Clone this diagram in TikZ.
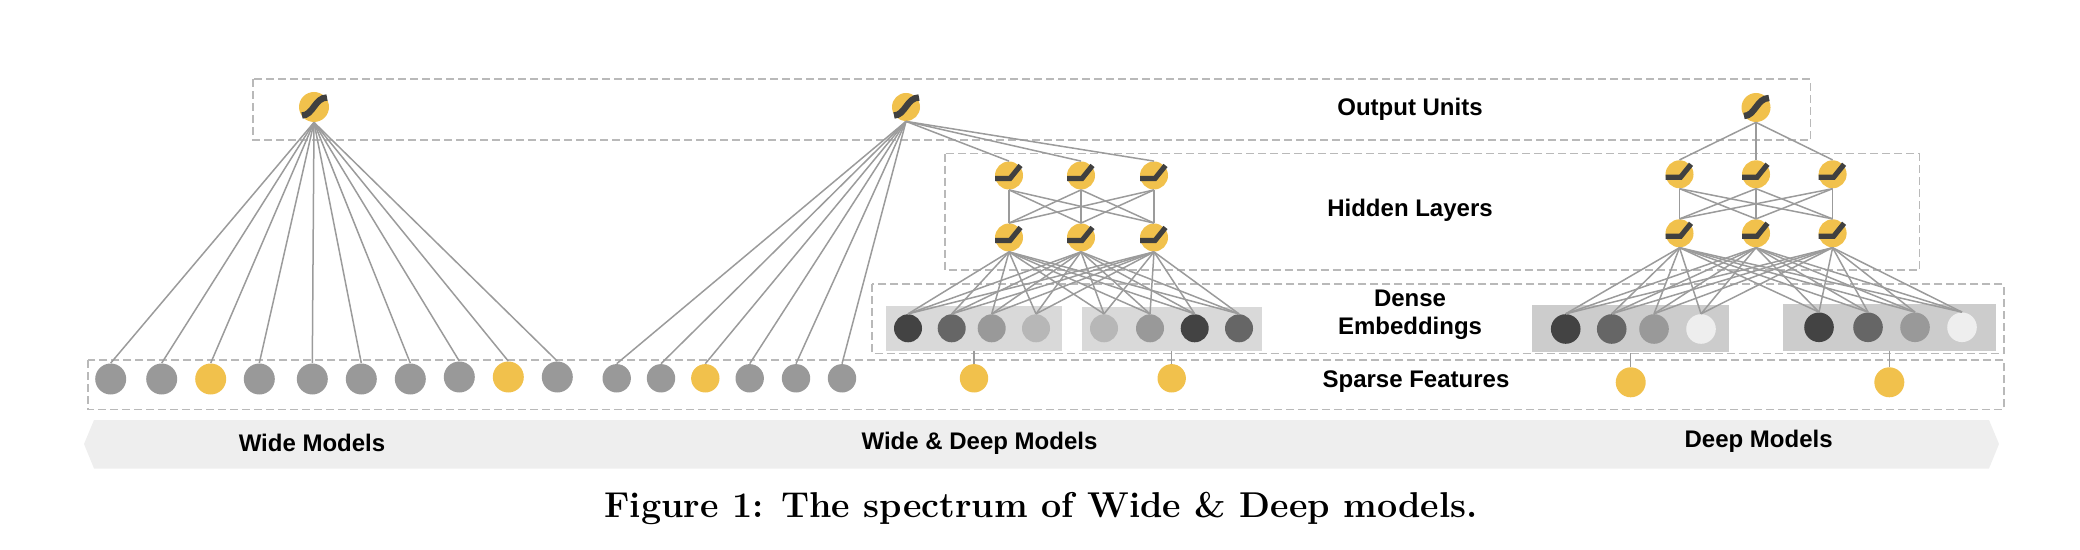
\documentclass[tikz,border=0pt]{standalone}
\usepackage{fontspec}
\newfontfamily\labfont{Liberation Sans}
\usetikzlibrary{calc}
\definecolor{yel}{RGB}{241,193,76}
\definecolor{cg}{RGB}{153,153,153}
\definecolor{lnc}{RGB}{155,155,155}
\definecolor{dashc}{RGB}{185,185,185}
\definecolor{icon}{RGB}{64,64,64}
\definecolor{c1}{RGB}{67,67,67}
\definecolor{c2}{RGB}{102,102,102}
\definecolor{c3}{RGB}{153,153,153}
\definecolor{c4}{RGB}{183,183,183}
\definecolor{c5}{RGB}{238,238,238}
\definecolor{rectA}{RGB}{217,217,217}
\definecolor{rectB}{RGB}{204,204,204}
\definecolor{band}{RGB}{238,238,238}
\begin{document}
\begin{tikzpicture}[x=0.5pt,y=-0.5pt,
  sp/.style={circle,inner sep=0pt,minimum size=15.5pt,fill=#1},
  sps/.style={circle,inner sep=0pt,minimum size=14.2pt,fill=#1},
  emb/.style={circle,inner sep=0pt,minimum size=14pt,fill=#1},
  demb/.style={circle,inner sep=0pt,minimum size=14.8pt,fill=#1},
  outu/.style={circle,inner sep=0pt,minimum size=15pt,fill=yel},
  hid/.style={circle,inner sep=0pt,minimum size=14pt,fill=yel},
  embrect/.style={rectangle,inner sep=0pt,fill=#1},
  conn/.style={draw=lnc,line width=0.75pt},
  dbox/.style={draw=dashc,line width=0.8pt,dash pattern=on 4pt off 2pt},
  lab/.style={font=\labfont\bfseries\fontsize{12}{14.15}\selectfont,align=center,inner sep=0pt},
  sigicon/.pic={\draw[icon,line width=3.2pt,line cap=butt] (-12,8.5) .. controls (-1,8.5) and (1,-9.5) .. (13,-9.5);},
  reluicon/.pic={\draw[icon,line width=2.6pt,line cap=butt,line join=miter] (-14,3) -- (1,3) -- (11.5,-10);}
]
\useasboundingbox (0,0) rectangle (2080,550);

% bottom band
\fill[band] (94,420) -- (1989,420) -- (1999,444) -- (1989,468.5) -- (94,468.5) -- (84,444) -- cycle;

% dashed layer boxes
\draw[dbox] (252.7,79.3) rectangle (1810.6,140);
\draw[dbox] (945,153.7) rectangle (1919.3,270);
\draw[dbox] (871.7,284.3) rectangle (2004,353.3);
\draw[dbox] (87.7,360) rectangle (2004,409.5);

% ---------------- Wide model ----------------
\node[outu] (wo) at (314,107) {};
\pic at (wo) {sigicon};
\foreach \x/\y/\c [count=\i] in {110.7/379/cg,161.7/379/cg,210.7/379/yel,259.3/379/cg,312.3/379/cg,361.3/379/cg,410.3/379/cg,459.3/377/cg,508.3/377/yel,557.3/377/cg}
  \node[sp=\c] (ws\i) at (\x,\y) {};
\foreach \i in {1,...,10} \draw[conn] (wo.south) -- (ws\i.north);

% ---------------- Wide & Deep model ----------------
\node[outu,minimum size=14pt] (wdo) at (906,107) {};
\pic at (wdo) {sigicon};
\foreach \x/\c [count=\i] in {616.7/cg,661/cg,705.3/yel,749.7/cg,796/cg,842/cg}
  \node[sps=\c] (wds\i) at (\x,378.3) {};
\foreach \i in {1,...,6} \draw[conn] (wdo.south) -- (wds\i.north);

\foreach \x [count=\i] in {1009,1081,1154} {
  \node[hid] (wh\i) at (\x,175.5) {};
  \pic at (wh\i) {reluicon};
  \node[hid] (wg\i) at (\x,237.5) {};
  \pic at (wg\i) {reluicon};
}
\foreach \i in {1,2,3} \draw[conn] (wdo.south) -- (wh\i.north);
\foreach \i in {1,2,3} \foreach \j in {1,2,3} \draw[conn] (wh\i.south) -- (wg\j.north);

\node[embrect=rectA,minimum width=88.15pt,minimum height=22.35pt] (er1) at (974.2,328.4) {};
\node[embrect=rectA,minimum width=90pt,minimum height=22pt] (er2) at (1172.3,328.7) {};
\foreach \x/\c [count=\i] in {908/c1,951.7/c2,991.7/c3,1036/c4,1104/c4,1150/c3,1194.7/c1,1239/c2}
  \node[emb=\c] (we\i) at (\x,328.3) {};
\foreach \i in {1,2,3} \foreach \j in {1,...,8} \draw[conn] (wg\i.south) -- (we\j.north);

\node[sps=yel] (wy1) at (974,378.3) {};
\node[sps=yel] (wy2) at (1171.7,378.3) {};
\draw[conn] (wy1.north) -- (wy1.north |- er1.south);
\draw[conn] (wy2.north) -- (wy2.north |- er2.south);

% ---------------- Deep model ----------------
\node[outu,minimum size=14.5pt] (dpo) at (1756,107.5) {};
\pic at (dpo) {sigicon};
\foreach \x [count=\i] in {1679.5,1756,1832.6} {
  \node[hid] (dh\i) at (\x,174.3) {};
  \pic at (dh\i) {reluicon};
  \node[hid] (dg\i) at (\x,233.3) {};
  \pic at (dg\i) {reluicon};
}
\foreach \i in {1,2,3} \draw[conn] (dpo.south) -- (dh\i.north);
\foreach \i in {1,2,3} \foreach \j in {1,2,3} \draw[conn] (dh\i.south) -- (dg\j.north);

\node[embrect=rectB,minimum width=98.5pt,minimum height=23.5pt] (er3) at (1630.5,328.8) {};
\node[embrect=rectB,minimum width=106.5pt,minimum height=23.5pt] (er4) at (1889.5,327.5) {};
\foreach \x/\c [count=\i] in {1565.7/c1,1611.7/c2,1654/c3,1701/c5}
  \node[demb=\c] (de\i) at (\x,329) {};
\foreach \x/\c [count=\i from 5] in {1819/c1,1868/c2,1915/c3,1962/c5}
  \node[demb=\c] (de\i) at (\x,327.3) {};
\foreach \i in {1,2,3} \foreach \j in {1,...,8} \draw[conn] (dg\i.south) -- (de\j.north);

\node[sp=yel,minimum size=15pt] (dy1) at (1630.7,382.3) {};
\node[sp=yel,minimum size=15pt] (dy2) at (1889.3,382.3) {};
\draw[conn] (dy1.north) -- (dy1.north |- er3.south);
\draw[conn] (dy2.north) -- (dy2.north |- er4.south);

% ---------------- labels ----------------
\node[lab] (lo) at (1410,109) {Output Units};
\node[lab] (lh) at (1410,210) {Hidden Layers};
\node[lab] (ld) at (1410,315) {Dense\\Embeddings};
\node[lab] (ls) at (1416,382) {Sparse Features};
\node[lab] (bw) at (312,443) {Wide Models};
\node[lab] (bwd) at (979.5,443) {Wide \& Deep Models};
\node[lab] (bd) at (1758.6,441) {Deep Models};

\node[font=\bfseries\fontsize{17.95}{20}\selectfont,inner sep=0pt] (cap) at (1041,508) {Figure 1: The spectrum of Wide \& Deep models.};
\end{tikzpicture}
\end{document}
